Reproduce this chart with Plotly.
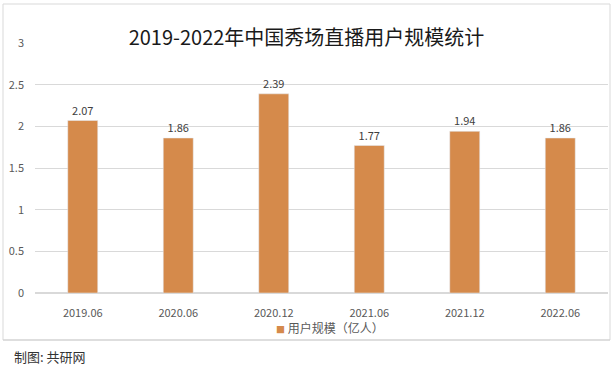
import plotly.graph_objects as go

categories = ["2019.06", "2020.06", "2020.12", "2021.06", "2021.12", "2022.06"]
values = [2.07, 1.86, 2.39, 1.77, 1.94, 1.86]
series_name = "用户规模（亿人）"
title_text = "2019-2022年中国秀场直播用户规模统计"
footer_text = "制图: 共研网"
y_ticks = [0, 0.5, 1, 1.5, 2, 2.5, 3]

FONT = "Noto Sans CJK SC, Liberation Sans, sans-serif"
BAR_COLOR = "#D58A4B"

fig = go.Figure()
fig.add_trace(go.Bar(
    x=categories, y=values, name=series_name,
    marker=dict(color=BAR_COLOR),
    text=[f"{v:.2f}" for v in values], textposition="outside",
    textfont=dict(size=11, color="#404040", family=FONT),
    cliponaxis=False,
))

W, H = 613, 371
L, R, T, B = 35, 5, 43, 78
pw = W - L - R
ph = H - T - B

def px(x):
    return (x - L) / pw

def py(y):
    return (H - B - y) / ph

fig.update_layout(
    width=W, height=H,
    margin=dict(l=L, r=R, t=T, b=B, autoexpand=False),
    paper_bgcolor="white", plot_bgcolor="white",
    font=dict(family=FONT, color="#595959"),
    title=dict(text=title_text, x=0.5, xanchor="center", y=1 - 38 / H, yanchor="middle",
               font=dict(size=20, color="#1a1a1a", family=FONT)),
    bargap=0.686,
    showlegend=False,
    xaxis=dict(showgrid=False, showline=False, ticks="", ticklabelstandoff=12,
               tickfont=dict(size=11, color="#595959", family=FONT)),
    yaxis=dict(range=[0, 3], tickvals=y_ticks, ticktext=[str(t) for t in y_ticks],
               showgrid=True, gridcolor="#D9D9D9", gridwidth=1, zeroline=True,
               zerolinecolor="#D9D9D9", showline=False, ticks="", ticklabelstandoff=10,
               tickfont=dict(size=11, color="#595959", family=FONT)),
    shapes=[
        dict(type="rect", xref="paper", yref="paper", x0=px(3), x1=px(610), y0=py(340), y1=py(4),
             line=dict(color="#D9D9D9", width=1)),
        dict(type="line", xref="paper", yref="paper", x0=px(3), x1=px(610), y0=py(340), y1=py(340),
             line=dict(color="#D0D0D0", width=1)),
    ],
    annotations=[
        dict(text=f"<span style='color:{BAR_COLOR};font-size:9px'>■</span> {series_name}",
             xref="paper", yref="paper", x=px(330), y=py(327),
             xanchor="center", yanchor="middle", showarrow=False,
             font=dict(size=12, color="#595959", family=FONT)),
        dict(text=footer_text, xref="paper", yref="paper", x=px(12), y=py(356),
             xanchor="left", yanchor="middle", showarrow=False,
             font=dict(size=13, color="#333333", family=FONT)),
    ],
)

fig.write_html("out.html", config={"displayModeBar": False},
               post_script="document.body.style.margin='0';document.body.style.overflow='hidden';")
